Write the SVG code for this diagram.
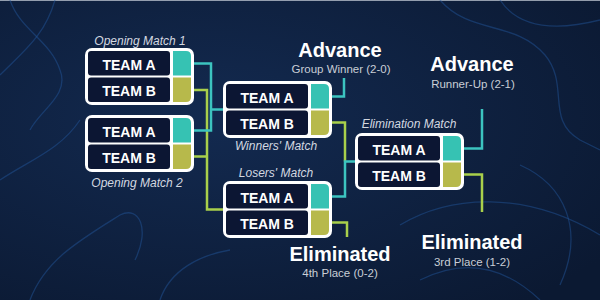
<svg xmlns="http://www.w3.org/2000/svg" xmlns:xlink="http://www.w3.org/1999/xlink" width="600" height="300" viewBox="0 0 600 300">
  <style>
    .team { font-family: "Liberation Sans", Arial, sans-serif; font-weight: bold; font-size: 14px; fill: #ffffff; text-anchor: middle; }
    .cap { font-family: "Liberation Sans", Arial, sans-serif; font-style: italic; font-size: 12px; fill: #d3d8e0; text-anchor: middle; }
    .big { font-family: "Liberation Sans", Arial, sans-serif; font-weight: bold; font-size: 20px; fill: #ffffff; text-anchor: middle; }
    .sub { font-family: "Liberation Sans", Arial, sans-serif; font-size: 11.5px; fill: #c9ced6; text-anchor: middle; }
    .teal { fill: none; stroke: #3cc4c0; stroke-width: 2.5; }
    .lime { fill: none; stroke: #a9d04b; stroke-width: 2.5; }
    .deco { fill: none; stroke: #24589f; stroke-width: 1.3; opacity: 0.45; }
  </style>
  <defs>
    <radialGradient id="bg" cx="0.35" cy="0.4" r="0.8">
      <stop offset="0" stop-color="#132a50"/>
      <stop offset="1" stop-color="#0b1932"/>
    </radialGradient>
    <g id="box">
      <rect x="0" y="0" width="109" height="57" rx="7" fill="#ffffff"/>
      <rect x="3" y="3" width="82" height="24.5" rx="3" fill="#0c1633"/>
      <rect x="3" y="29.5" width="82" height="24.5" rx="3" fill="#0c1633"/>
      <path d="M88,3 H101 Q106,3 106,8 V27.5 H88 Z" fill="#36c2b3"/>
      <path d="M88,29.5 H106 V49 Q106,54 101,54 H88 Z" fill="#b7b94b"/>
    </g>
  </defs>

  <rect width="600" height="300" fill="url(#bg)"/>
  <rect width="600" height="1" fill="#cdd4de" opacity="0.7"/>

  <g id="background-art">
    <path class="deco" d="M0,75 C25,50 45,35 55,0"/>
    <path class="deco" d="M10,0 C20,30 50,40 60,70 C70,95 40,110 30,130"/>
    <path class="deco" d="M0,180 C30,160 60,150 80,120"/>
    <path class="deco" d="M30,300 C45,260 80,240 120,215 C140,205 150,230 135,260"/>
    <path class="deco" d="M160,300 C170,270 200,255 230,250"/>
    <path class="deco" d="M440,0 C470,35 515,20 545,55 C570,85 545,120 580,140 L600,150"/>
    <path class="deco" d="M500,0 C520,30 560,30 600,20"/>
    <path class="deco" d="M400,225 C450,195 525,190 600,235"/>
    <path class="deco" d="M520,165 C565,185 585,230 560,285"/>
    <path class="deco" d="M420,280 C460,260 500,262 540,300"/>
  </g>

  <g id="connectors">
    <path class="lime" d="M194,90 H207 V209.5 H223"/>
    <path class="lime" d="M194,156.5 H207"/>
    <path class="teal" d="M194,63.5 H211 V130.5 H194"/>
    <path class="teal" d="M211,109.5 H223"/>
    <path class="teal" d="M332,96.5 H344 V78"/>
    <path class="lime" d="M332,122.5 H345 V161.5"/>
    <path class="teal" d="M332,196.5 H345 V161.5 H355"/>
    <path class="lime" d="M332,222.5 H347 V237"/>
    <path class="teal" d="M464,148.5 H482 V109"/>
    <path class="lime" d="M464,174.5 H482 V212"/>
  </g>

  <g id="opening-match-1">
    <use xlink:href="#box" href="#box" x="85" y="48"/>
    <text class="cap" x="140" y="45">Opening Match 1</text>
    <text class="team" x="129" y="69.5">TEAM A</text>
    <text class="team" x="129" y="95.5">TEAM B</text>
  </g>

  <g id="opening-match-2">
    <use xlink:href="#box" href="#box" x="85" y="115"/>
    <text class="team" x="129" y="136.5">TEAM A</text>
    <text class="team" x="129" y="162.5">TEAM B</text>
    <text class="cap" x="137" y="187">Opening Match 2</text>
  </g>

  <g id="winners-match">
    <use xlink:href="#box" href="#box" x="223" y="81"/>
    <text class="team" x="267" y="102.5">TEAM A</text>
    <text class="team" x="267" y="128.5">TEAM B</text>
    <text class="cap" x="276" y="150">Winners' Match</text>
  </g>

  <g id="losers-match">
    <text class="cap" x="276" y="177">Losers' Match</text>
    <use xlink:href="#box" href="#box" x="223" y="181"/>
    <text class="team" x="267" y="202.5">TEAM A</text>
    <text class="team" x="267" y="228.5">TEAM B</text>
  </g>

  <g id="elimination-match">
    <text class="cap" x="409" y="128">Elimination Match</text>
    <use xlink:href="#box" href="#box" x="355" y="133"/>
    <text class="team" x="399" y="154.5">TEAM A</text>
    <text class="team" x="399" y="180.5">TEAM B</text>
  </g>

  <g id="advance-winner">
    <text class="big" x="340" y="57">Advance</text>
    <text class="sub" x="341" y="73">Group Winner (2-0)</text>
  </g>

  <g id="advance-runner-up">
    <text class="big" x="472" y="71">Advance</text>
    <text class="sub" x="473" y="88">Runner-Up (2-1)</text>
  </g>

  <g id="eliminated-4th">
    <text class="big" x="340" y="261">Eliminated</text>
    <text class="sub" x="340" y="277">4th Place (0-2)</text>
  </g>

  <g id="eliminated-3rd">
    <text class="big" x="472" y="249">Eliminated</text>
    <text class="sub" x="472" y="266">3rd Place (1-2)</text>
  </g>
</svg>
